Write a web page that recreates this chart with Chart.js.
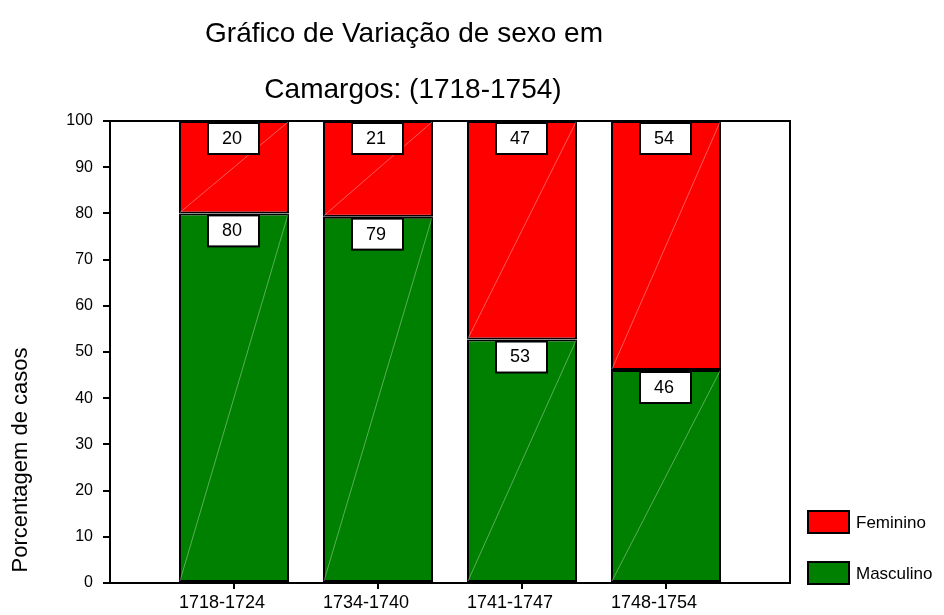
<!DOCTYPE html>
<html>
<head>
<meta charset="utf-8">
<script src="https://cdn.jsdelivr.net/npm/chart.js@4/dist/chart.umd.min.js"></script>
<style>
  body { margin: 0; background: #fff; }
</style>
</head>
<body>
<canvas id="sexChart" width="944" height="615"></canvas>
<script>
// data
var periods = ["1718-1724", "1734-1740", "1741-1747", "1748-1754"];
var masculino = [80, 79.3, 52.7, 46.1];
var feminino = [20, 20.7, 47.3, 53.9];
var yTicks = [0, 10, 20, 30, 40, 50, 60, 70, 80, 90, 100];

var FONT = "Arial, 'Liberation Sans', sans-serif";

// white page, boxes with the values, frame, legend and titles
var decor = {
    id: "decor",
    beforeDraw: function(chart){
        var ctx = chart.ctx;
        ctx.save();
        ctx.fillStyle = "#fff";
        ctx.fillRect(0, 0, chart.width, chart.height);
        ctx.restore();
    },
    afterDatasetsDraw: function(chart){
        var ctx = chart.ctx;
        var a = chart.chartArea;
        ctx.save();

        //faint diagonal line in every bar
        chart.data.datasets.forEach(function(ds, di){
            chart.getDatasetMeta(di).data.forEach(function(bar){
                var w = bar.width / 2;
                ctx.strokeStyle = "rgba(255,255,255,0.35)";
                ctx.lineWidth = 1;
                ctx.beginPath();
                ctx.moveTo(bar.x - w + 1, bar.base - 1);
                ctx.lineTo(bar.x + w - 1, bar.y + 1);
                ctx.stroke();
            });
        });

        //value boxes
        ctx.font = "18px " + FONT;
        ctx.textAlign = "center";
        ctx.textBaseline = "middle";
        chart.data.datasets.forEach(function(ds, di){
            chart.getDatasetMeta(di).data.forEach(function(bar, i){
                var bx = bar.x - 26, by = bar.y + 2;
                ctx.fillStyle = "#fff";
                ctx.fillRect(bx, by, 51, 31);
                ctx.strokeStyle = "#000";
                ctx.lineWidth = 2;
                ctx.strokeRect(bx, by, 51, 31);
                ctx.fillStyle = "#000";
                ctx.fillText(Math.round(ds.data[i].y), bx + 24, by + 16);
            });
        });

        //frame round the plot
        ctx.strokeStyle = "#000";
        ctx.lineWidth = 2;
        ctx.strokeRect(a.left, a.top, a.right - a.left, a.bottom - a.top);

        //legend, Feminino on top
        ctx.font = "17px " + FONT;
        ctx.textAlign = "left";
        var items = chart.data.datasets.slice().reverse();
        items.forEach(function(ds, k){
            var y = 511 + k * 51;
            ctx.fillStyle = ds.backgroundColor;
            ctx.fillRect(808, y, 41, 22);
            ctx.strokeStyle = "#000";
            ctx.lineWidth = 2;
            ctx.strokeRect(808, y, 41, 22);
            ctx.fillStyle = "#000";
            ctx.fillText(ds.label, 856, y + 12);
        });

        //title, two lines
        ctx.font = "28px " + FONT;
        ctx.textAlign = "center";
        ctx.textBaseline = "alphabetic";
        ctx.fillText("Gráfico de Variação de sexo em", 404, 42);
        ctx.fillText("Camargos: (1718-1754)", 413, 98);

        //y axis title
        ctx.save();
        ctx.translate(27, 460);
        ctx.rotate(-Math.PI / 2);
        ctx.font = "22px " + FONT;
        ctx.fillText("Porcentagem de casos", 0, 0);
        ctx.restore();

        ctx.restore();
    }
};

function points(arr){
    return arr.map(function(v, i){ return {x: i, y: v}; });
}

var sexChart = new Chart(document.getElementById("sexChart"), {
    type: "bar",
    data: {
        datasets: [{
            label: "Masculino",
            data: points(masculino),
            backgroundColor: "#008000"
        }, {
            label: "Feminino",
            data: points(feminino),
            backgroundColor: "#ff0000"
        }]
    },
    options: {
        responsive: false,
        animation: false,
        layout: { padding: { left: 0, top: 121, right: 154, bottom: 0 } },
        datasets: {
            bar: {
                borderColor: "#000",
                borderWidth: 2,
                borderSkipped: false,
                barPercentage: 0.764,
                categoryPercentage: 1
            }
        },
        plugins: {
            legend: { display: false },
            title: { display: false },
            tooltip: { enabled: false }
        },
        scales: {
            x: {
                type: "linear",
                stacked: true,
                offset: false,
                min: -0.861,
                max: 3.861,
                afterBuildTicks: function(s){
                    s.ticks = periods.map(function(p, i){ return {value: i}; });
                },
                afterFit: function(s){ s.height = 32; },
                grid: { offset: false, drawOnChartArea: false, drawTicks: true, tickLength: 6, color: "#000", lineWidth: 2 },
                border: { color: "#000", width: 2 },
                ticks: {
                    callback: function(v){ return periods[v]; },
                    font: { size: 18, family: FONT },
                    color: "#000",
                    padding: 3,
                    labelOffset: -12,
                    maxRotation: 0,
                    autoSkip: false
                }
            },
            y: {
                stacked: true,
                min: 0,
                max: 100,
                afterBuildTicks: function(s){
                    s.ticks = yTicks.map(function(v){ return {value: v}; });
                },
                afterFit: function(s){ s.width = 110; },
                grid: { drawOnChartArea: false, drawTicks: true, tickLength: 7, color: "#000", lineWidth: 2 },
                border: { color: "#000", width: 2 },
                ticks: {
                    font: { size: 16, family: FONT },
                    color: "#000",
                    padding: 10
                }
            }
        }
    },
    plugins: [decor]
});
</script>
</body>
</html>
